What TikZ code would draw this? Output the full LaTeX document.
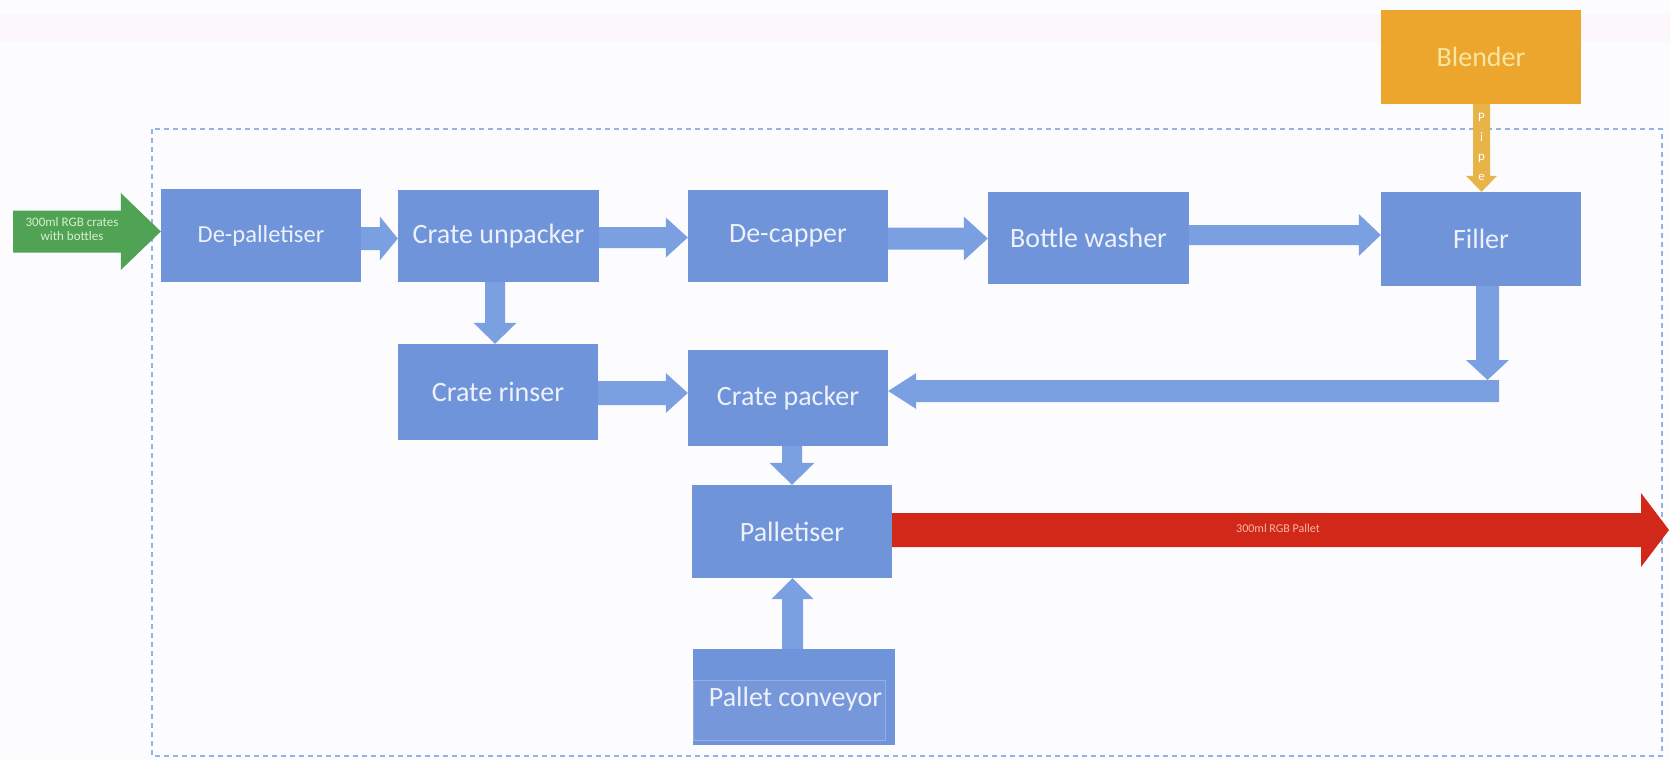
\documentclass[tikz,border=0pt]{standalone}
\usepackage{fontspec}
\setmainfont{Carlito}
\usetikzlibrary{calc}

\definecolor{boxblue}{RGB}{112,148,218}
\definecolor{arrowblue}{RGB}{122,160,226}
\definecolor{boxtext}{RGB}{236,241,250}
\definecolor{blendorange}{RGB}{236,166,46}
\definecolor{pipeorange}{RGB}{232,180,72}
\definecolor{blendtext}{RGB}{246,231,160}
\definecolor{feedgreen}{RGB}{80,163,84}
\definecolor{feedtext}{RGB}{216,238,208}
\definecolor{outred}{RGB}{210,40,25}
\definecolor{outtext}{RGB}{243,184,168}
\definecolor{framecol}{RGB}{150,178,228}
\definecolor{paper}{RGB}{252,252,254}
\definecolor{topband}{RGB}{252,247,250}

% block arrow: style, start, tip, body half-width, head half-width, head length
\newcommand\blockarrow[6]{%
  \fill[#1] let \p1=#2, \p2=#3,
      \n1={abs(\x2-\x1)+abs(\y2-\y1)},
      \n2={(\x2-\x1)/\n1}, \n3={(\y2-\y1)/\n1} in
    ({\x1-\n3*#4},{\y1+\n2*#4})
    -- ({\x2-\n2*#6-\n3*#4},{\y2-\n3*#6+\n2*#4})
    -- ({\x2-\n2*#6-\n3*#5},{\y2-\n3*#6+\n2*#5})
    -- (\p2)
    -- ({\x2-\n2*#6+\n3*#5},{\y2-\n3*#6-\n2*#5})
    -- ({\x2-\n2*#6+\n3*#4},{\y2-\n3*#6-\n2*#4})
    -- ({\x1+\n3*#4},{\y1-\n2*#4}) -- cycle;}

\tikzset{
  stage/.style={fill=boxblue, text=boxtext, inner sep=0pt,
    minimum width=200pt, minimum height=93pt,
    font=\fontsize{28}{30}\selectfont},
  flow/.style={fill=arrowblue},
}

\begin{document}
\begin{tikzpicture}[x=1pt,y=-1pt]
\useasboundingbox (0,0) rectangle (1670,760);
\fill[paper] (0,0) rectangle (1670,760);
\fill[topband] (0,14) rectangle (1670,42);

% plant boundary
\draw[framecol, line width=1.4pt, dash pattern=on 5pt off 4pt]
  (152,129) rectangle (1662,756);

% process stages
\node[stage, font=\fontsize{24.5}{26}\selectfont] (dep) at (261,235.5) {De-palletiser};
\node[stage, minimum width=201pt, minimum height=92pt] (cu) at (498.5,236) {Crate unpacker};
\node[stage, minimum height=92pt] (dc) at (788,236) {De-capper};
\node[stage, minimum width=201pt, minimum height=92pt] (bw) at (1088.5,238) {Bottle washer};
\node[stage, minimum height=94pt] (fil) at (1481,239) {Filler};
\node[stage, fill=blendorange, text=blendtext, minimum height=94pt] (blend) at (1481,57) {Blender};
\node[stage, minimum height=96pt] (cr) at (498,392) {Crate rinser};
\node[stage, minimum height=96pt] (cp) at (788,398) {Crate packer};
\node[stage] (pal) at (792,531.5) {Palletiser};
\node[stage, minimum width=202pt, minimum height=96pt] (pcbox) at (794,697) {};
\node[fill=boxblue!96!white, draw=boxblue!75!white, line width=0.6pt, inner sep=0pt,
  minimum width=192pt, minimum height=60pt] (pcin) at (789,710) {};
\node[text=boxtext, font=\fontsize{28}{30}\selectfont] (pc) at (795.5,699) {Pallet conveyor};

% incoming crates
\coordinate (feed) at (13,231.5);
\blockarrow{feedgreen}{(feed)}{(feed -| dep.west)}{21pt}{38.5pt}{40pt}
\node[text=feedtext, align=center, font=\fontsize{13}{14}\selectfont] at (72,229.5)
  {300ml RGB crates\\with bottles};

% pipe from blender to filler
\blockarrow{pipeorange}{($(blend.south)+(0.5,0)$)}{($(fil.north)+(0.5,0)$)}{8.5pt}{15.5pt}{16pt}
\node[text=white, align=center, inner sep=0pt,
  font=\fontsize{13}{19.5}\selectfont] (pipe) at (1481.5,147) {P\\i\\p\\e};

% main line
\blockarrow{flow}{($(dep.east)+(0,3)$)}{($(dep.east -| cu.west)+(0,3)$)}{11.5pt}{22pt}{18pt}
\blockarrow{flow}{($(cu.east)+(0,1.5)$)}{($(cu.east -| dc.west)+(0,1.5)$)}{10.5pt}{20pt}{22pt}
\blockarrow{flow}{($(dc.east)+(0,2.5)$)}{($(dc.east -| bw.west)+(0,2.5)$)}{11pt}{22pt}{24pt}
\blockarrow{flow}{($(bw.east)+(0,-3)$)}{($(bw.east -| fil.west)+(0,-3)$)}{10pt}{21pt}{22pt}

% crate branch
\blockarrow{flow}{($(cu.south)+(-3.5,0)$)}{($(cu.south |- cr.north)+(-3.5,0)$)}{10pt}{21.5pt}{21pt}
\blockarrow{flow}{($(cr.east)+(0,1)$)}{($(cr.east -| cp.west)+(0,1)$)}{12pt}{20pt}{22pt}

% filled bottles back to the crate packer
\coordinate (ret) at (1499,391);
\blockarrow{flow}{($(fil.south)+(6.5,0)$)}{(1487.5,380)}{11.5pt}{21.5pt}{20pt}
\blockarrow{flow}{(ret)}{(ret -| cp.east)}{11pt}{18pt}{28pt}

% packing and palletising
\blockarrow{flow}{($(cp.south)+(4,0)$)}{($(cp.south |- pal.north)+(4,0)$)}{10pt}{22.5pt}{22pt}
\blockarrow{flow}{($(pcbox.north)+(-1.5,0)$)}{($(pcbox.north |- pal.south)+(-1.5,0)$)}{10.5pt}{21pt}{21pt}

% finished pallets out
\coordinate (out) at (1669,530);
\blockarrow{outred}{($(pal.east)+(0,-1.5)$)}{(out)}{17pt}{37pt}{28pt}
\node[text=outtext, font=\fontsize{12}{13}\selectfont] at (1278,528) {300ml RGB Pallet};
\end{tikzpicture}
\end{document}
